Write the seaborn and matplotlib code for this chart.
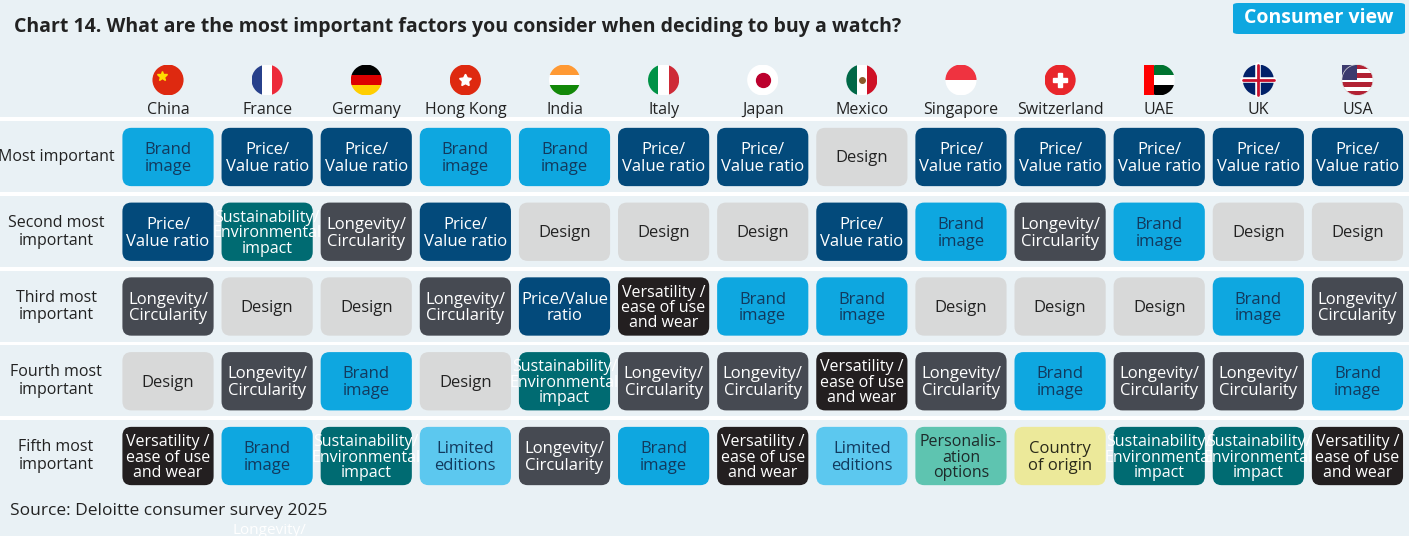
import numpy as np
import matplotlib.pyplot as plt
import seaborn as sns
from matplotlib.patches import FancyBboxPatch, Ellipse, Rectangle

countries = ["China", "France", "Germany", "Hong Kong", "India", "Italy", "Japan",
             "Mexico", "Singapore", "Switzerland", "UAE", "UK", "USA"]
ranks = ["Most important", "Second most\nimportant", "Third most\nimportant",
         "Fourth most\nimportant", "Fifth most\nimportant"]

BI, PV, DE, LC, SU, VE, LE, PE, CO, PVR = ("Brand\nimage", "Price/\nValue ratio", "Design",
    "Longevity/\nCircularity", "Sustainability/\nEnvironmental\nimpact",
    "Versatility /\nease of use\nand wear", "Limited\neditions", "Personalis-\nation\noptions",
    "Country\nof origin", "Price/Value\nratio")

most = [BI, PV, PV, BI, BI, PV, PV, DE, PV, PV, PV, PV, PV]
second = [PV, SU, LC, PV, DE, DE, DE, PV, BI, LC, BI, DE, DE]
third = [LC, DE, DE, LC, PVR, VE, BI, BI, DE, DE, DE, BI, LC]
fourth = [DE, LC, BI, DE, SU, LC, LC, VE, LC, BI, LC, LC, BI]
fifth = [VE, BI, SU, LE, LC, BI, VE, LE, PE, CO, SU, SU, VE]
grid = [most, second, third, fourth, fifth]

styles = {
    BI: ("#0ea7e0", "#123a5e"), PV: ("#034a7b", "white"), PVR: ("#034a7b", "white"),
    DE: ("#d8d9d9", "#222222"), LC: ("#464a52", "white"), SU: ("#006b72", "white"),
    VE: ("#231f20", "white"), LE: ("#5cc8ef", "#123a5e"), PE: ("#5ec4b0", "#1d2a2a"),
    CO: ("#ece99a", "#2a2a1a"),
}

sns.set_theme(style="white")
plt.rcParams['font.family'] = ['Open Sans', 'DejaVu Sans']

bg = "#e9f1f5"
fig = plt.figure(figsize=(14.09, 5.36), dpi=100, facecolor=bg)
ax = fig.add_axes([0, 0, 1, 1])
ax.set_facecolor(bg)
ax.set_xlim(-1.695, 12.52)
ax.set_ylim(5.07, -2.10)
ax.axis("off")

# row separators
for j in range(5):
    ax.add_patch(Rectangle((-1.7, j - 0.5 - 0.03), 14.3, 0.05, color="white", lw=0))

for j, row in enumerate(grid):
    for i, item in enumerate(row):
        fc, tc = styles[item]
        ax.add_patch(FancyBboxPatch((i - 0.46, j - 0.39), 0.92, 0.78,
                                    boxstyle="round,pad=0,rounding_size=0.09",
                                    mutation_aspect=1.33, fc=fc, ec="none"))
        three = item.count("\n") >= 2
        ax.text(i, j + 0.02, item, ha="center", va="center", color=tc,
                fontsize=11.5 if three else 12, linespacing=0.95 if three else 1.05,
                clip_on=False)
    ax.text(-1.13, j, ranks[j], ha="center", va="center", fontsize=11.5, color="#222222",
            linespacing=1.15)

# flags
fy, rx, ry = -1.03, 0.157, 0.207
def stripes(i, cols, vertical):
    circ = Ellipse((i, fy), 2 * rx, 2 * ry, fc="none", ec="none")
    ax.add_patch(circ)
    n = len(cols)
    for k, c in enumerate(cols):
        if vertical:
            r = Rectangle((i - rx + 2 * rx * k / n, fy - ry), 2 * rx / n, 2 * ry, fc=c, lw=0)
        else:
            r = Rectangle((i - rx, fy - ry + 2 * ry * k / n), 2 * rx, 2 * ry / n, fc=c, lw=0)
        ax.add_patch(r)
        r.set_clip_path(circ)

flag_defs = [
    (["#de2910"], True), (["#27408b", "white", "#ed2939"], True),
    (["black", "#dd0000", "#ffce00"], False), (["#de2910"], True),
    (["#ff9933", "white", "#138808"], False), (["#009246", "white", "#ce2b37"], True),
    (["white"], True), (["#006847", "white", "#ce1126"], True),
    (["#ef3340", "white"], False), (["#e8262b"], True),
    (["#00732f", "white", "black"], False), (["#012169"], True),
    (["#b22234", "white", "#b22234", "white", "#b22234", "white", "#b22234"], False),
]
for i, (cols, vert) in enumerate(flag_defs):
    stripes(i, cols, vert)
    ax.text(i, -0.63, countries[i], ha="center", va="center", fontsize=11.5, color="#222222")
ax.plot(0 - 0.06, fy - 0.06, marker="*", color="#ffde00", ms=7)
ax.plot(3, fy, marker=(5, 1, 0), color="white", ms=9)
ax.plot(6, fy, "o", color="#bc002d", ms=10)
ax.plot(7, fy, "o", color="#8b5a2b", ms=4)
ax.plot(9, fy, marker="P", color="white", ms=10)
ax.add_patch(Rectangle((10 - rx, fy - ry), 0.1, 2 * ry, fc="#ff0000", lw=0))
ax.plot([11 - rx, 11 + rx], [fy, fy], color="white", lw=4)
ax.plot([11, 11], [fy - ry, fy + ry], color="white", lw=4)
ax.plot([11 - rx, 11 + rx], [fy, fy], color="#c8102e", lw=2)
ax.plot([11, 11], [fy - ry, fy + ry], color="#c8102e", lw=2)
ax.add_patch(Rectangle((12 - rx, fy - ry), rx, ry, fc="#3c3b6e", lw=0))
ax.add_patch(Ellipse((12, fy), 2 * rx, 2 * ry, fc="none", ec="#dddddd", lw=0.5))

fig.text(14 / 1409, 1 - 27 / 536, "Chart 14. What are the most important factors you consider when deciding to buy a watch?",
         ha="left", va="center", fontsize=14, fontweight="bold", color="#222222")
fig.patches.append(FancyBboxPatch((1233 / 1409, 1 - 34 / 536), 172 / 1409, 31 / 536,
                                  boxstyle="round,pad=0,rounding_size=0.004",
                                  transform=fig.transFigure, fc="#0ea7e0", ec="none"))
fig.text(1319 / 1409, 1 - 18 / 536, "Consumer view", ha="center", va="center",
         fontsize=14, fontweight="bold", color="white")
fig.text(10 / 1409, 1 - 511 / 536, "Source: Deloitte consumer survey 2025", ha="left",
         va="center", fontsize=12.5, color="#222222")
fig.text(232 / 1409, 1 - 530 / 536, "Longevity/", ha="left", va="center",
         fontsize=11, color="white")

fig.savefig("out.png", dpi=100, facecolor=bg)
